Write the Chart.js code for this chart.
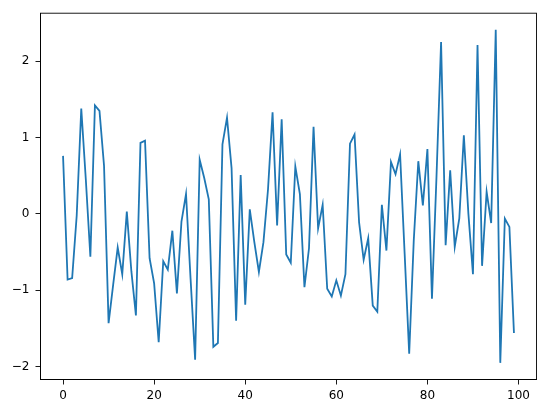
<!DOCTYPE html>
<html>
<head>
<meta charset="utf-8">
<script src="https://cdn.jsdelivr.net/npm/chart.js@4/dist/chart.umd.min.js"></script>
<style>
html,body{margin:0;padding:0;background:#fff;}
#wrap{width:546px;height:413px;position:relative;}
</style>
</head>
<body>
<div id="wrap"><canvas id="c" width="546" height="413"></canvas></div>
<script>
const values = [
  0.76, -0.86, -0.84, -0.02, 1.38, 0.45, -0.56, 1.42, 1.35, 0.63,
  -1.43, -0.93, -0.44, -0.79, 0.03, -0.75, -1.33, 0.93, 0.96, -0.58,
  -0.91, -1.68, -0.62, -0.73, -0.22, -1.04, -0.10, 0.26, -0.85, -1.91,
  0.71, 0.47, 0.19, -1.74, -1.69, 0.91, 1.26, 0.60, -1.40, 0.51,
  -1.19, 0.06, -0.37, -0.76, -0.37, 0.32, 1.33, -0.15, 1.24, -0.53,
  -0.64, 0.62, 0.26, -0.96, -0.45, 1.14, -0.19, 0.12, -0.98, -1.08,
  -0.87, -1.07, -0.79, 0.92, 1.04, -0.11, -0.60, -0.32, -1.20, -1.28,
  0.12, -0.48, 0.68, 0.52, 0.78, -0.52, -1.83, -0.35, 0.69, 0.11,
  0.85, -1.11, 0.50, 2.25, -0.41, 0.57, -0.43, -0.06, 1.03, 0.00,
  -0.79, 2.21, -0.68, 0.29, -0.12, 2.41, -1.95, -0.06, -0.17, -1.56
];
const xTicks = [0, 20, 40, 60, 80, 100];
const yTicks = [-2, -1, 0, 1, 2];

const points = values.map((v, i) => ({x: i, y: v}));
const n = values.length;
const xMin = 0, xMax = n - 1;
const xPad = (xMax - xMin) * 0.05;
const yLo = Math.min(...values), yHi = Math.max(...values);
const yPad = (yHi - yLo) * 0.05;

const frame = {
  id: 'frame',
  afterDatasetsDraw(chart) {
    const a = chart.chartArea, ctx = chart.ctx;
    ctx.save();
    ctx.strokeStyle = '#000';
    ctx.lineWidth = 0.9;
    ctx.strokeRect(a.left, a.top, a.right - a.left, a.bottom - a.top);
    ctx.restore();
  }
};

const tickFont = {family: 'DejaVu Sans', size: 12};

new Chart(document.getElementById('c'), {
  type: 'line',
  data: {
    datasets: [{
      data: points,
      borderColor: '#1f77b4',
      borderWidth: 1.8,
      pointRadius: 0,
      fill: false,
      tension: 0
    }]
  },
  options: {
    responsive: false,
    animation: false,
    layout: {padding: {left: 0, right: 9.5, top: 10.5, bottom: 0}},
    plugins: {legend: {display: false}, tooltip: {enabled: false}},
    scales: {
      x: {
        type: 'linear',
        min: xMin - xPad,
        max: xMax + xPad,
        afterBuildTicks(s) { s.ticks = xTicks.map(v => ({value: v})); },
        afterFit(s) { s.height = 33.5; },
        grid: {display: true, drawOnChartArea: false, drawTicks: true, tickLength: 5, color: '#000', tickWidth: 0.9},
        border: {display: true, color: '#000', width: 0.9},
        ticks: {color: '#000', font: tickFont, padding: 4, maxRotation: 0, autoSkip: false}
      },
      y: {
        type: 'linear',
        min: yLo - yPad,
        max: yHi + yPad,
        afterBuildTicks(s) { s.ticks = yTicks.map(v => ({value: v})); },
        afterFit(s) { s.width = 40.5; },
        grid: {display: true, drawOnChartArea: false, drawTicks: true, tickLength: 5, color: '#000', tickWidth: 0.9},
        border: {display: true, color: '#000', width: 0.9},
        ticks: {color: '#000', font: tickFont, padding: 6, autoSkip: false,
          callback: v => (v < 0 ? '\u2212' + Math.abs(v) : String(v))}
      }
    }
  },
  plugins: [frame]
});
</script>
</body>
</html>
